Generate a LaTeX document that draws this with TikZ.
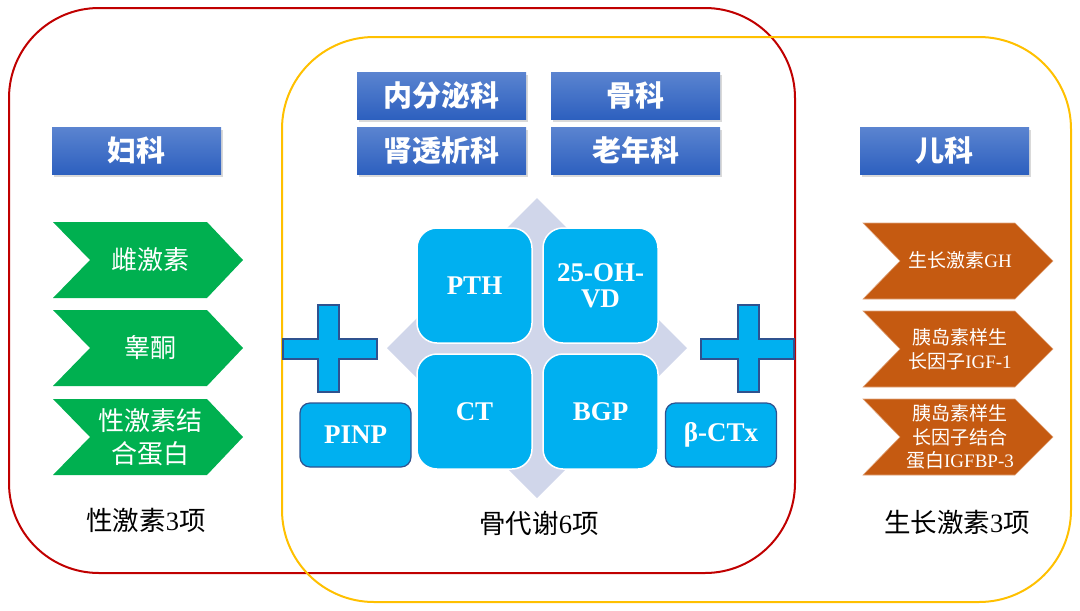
\documentclass[tikz,border=0pt]{standalone}
\usepackage{fontspec}
\setmainfont{Liberation Serif}
\newfontfamily\cjk{Noto Sans CJK SC}
\usetikzlibrary{shadows}
\definecolor{hdrtop}{HTML}{5B84D0}
\definecolor{hdrbot}{HTML}{2D60BF}
\definecolor{grn}{HTML}{00B050}
\definecolor{org}{HTML}{C55A11}
\definecolor{cyanbox}{HTML}{00B0F0}
\definecolor{darkblue}{HTML}{2F528F}
\definecolor{lav}{HTML}{D0D6EA}
\definecolor{redline}{HTML}{C00000}
\definecolor{yelline}{HTML}{FFC000}
\begin{document}
\begin{tikzpicture}[x=1pt,y=-1pt,
  hdr/.style={top color=hdrtop,bottom color=hdrbot,minimum width=169pt,minimum height=47pt,inner sep=0pt,text=white,
    font=\cjk\bfseries\fontsize{29}{31}\selectfont,drop shadow={shadow xshift=2pt,shadow yshift=-3pt,opacity=0.3}},
  sq/.style={fill=cyanbox,draw=white,line width=1.5pt,rounded corners=20pt,minimum width=115pt,minimum height=115pt,
    inner sep=0pt,text=white,align=center,font=\bfseries\fontsize{27}{26}\selectfont},
  smallbox/.style={fill=cyanbox,draw=darkblue,line width=1.2pt,rounded corners=10pt,minimum width=111pt,minimum height=64pt,
    inner sep=0pt,text=white,font=\bfseries\fontsize{27}{26}\selectfont},
  plusst/.style={fill=cyanbox,draw=darkblue,line width=1.2pt},
  gtext/.style={text=white,align=center,font=\cjk\fontsize{26}{33}\selectfont},
  otext/.style={text=white,align=center,font=\fontsize{19}{23.5}\selectfont},
  lbl/.style={text=black,font=\fontsize{26.5}{28}\selectfont},
  gchev/.style={fill=grn},
  ochev/.style={fill=org,draw=org!55!white,line width=0.6pt}
]
\useasboundingbox (0,0) rectangle (1080,611);
% group outlines
\draw[redline,line width=2pt,rounded corners=90pt] (9,8) rectangle (795,573);
\draw[yelline,line width=2pt,rounded corners=92pt] (282,37) rectangle (1071,602);

% headers
\node[hdr] (fk) at (136.5,150.5) {妇科};
\node[hdr] (nfm) at (441.5,95.5) {内分泌科};
\node[hdr] (gk) at (635.5,95.5) {骨科};
\node[hdr] (stx) at (441.5,150.5) {肾透析科};
\node[hdr] (lnk) at (635.5,150.5) {老年科};
\node[hdr] (ek) at (944.5,150.5) {儿科};

% green chevrons
\foreach \t in {222,310,399}{
  \fill[gchev] (53,\t) -- (207,\t) -- (243,\t+38) -- (207,\t+76) -- (53,\t+76) -- (90,\t+38) -- cycle;
}
\node[gtext] (cjs) at (150,260) {雌激素};
\node[gtext] (gt) at (150,348) {睾酮};
\node[gtext] (xjs) at (150,437) {性激素结\\合蛋白};

% orange chevrons
\foreach \t in {223,311,399}{
  \filldraw[ochev] (863,\t) -- (1015,\t) -- (1053,\t+38) -- (1015,\t+76) -- (863,\t+76) -- (900,\t+38) -- cycle;
}
\node[otext] (gh) at (960,260) {{\cjk 生长激素}GH};
\node[otext] (igf) at (960,349) {{\cjk 胰岛素样生}\\{\cjk 长因子}IGF-1};
\node[otext] (igfbp) at (960,437) {{\cjk 胰岛素样生}\\{\cjk 长因子结合}\\{\cjk 蛋白}IGFBP-3};

% diamond
\fill[lav] (537,198) -- (687,348) -- (537,498) -- (387,348) -- cycle;

% squares
\node[sq] (pth) at (474.5,285.5) {PTH};
\node[sq] (vd) at (600.5,285.5) {25-OH-\\VD};
\node[sq] (ct) at (474.5,411.5) {CT};
\node[sq] (bgp) at (600.5,411.5) {BGP};

% plus signs
\draw[plusst] (283,339) -- (318,339) -- (318,305) -- (339,305) -- (339,339) -- (377,339) -- (377,359)
  -- (339,359) -- (339,392) -- (318,392) -- (318,359) -- (283,359) -- cycle;
\draw[plusst] (701,339) -- (738,339) -- (738,305) -- (759,305) -- (759,339) -- (794,339) -- (794,359)
  -- (759,359) -- (759,392) -- (738,392) -- (738,359) -- (701,359) -- cycle;

\node[smallbox] (pinp) at (355.5,435) {PINP};
\node[smallbox] (ctx) at (721,435) {β-CTx};

% bottom labels
\node[lbl] (l1) at (146,520) {{\cjk 性激素}3{\cjk 项}};
\node[lbl] (l2) at (539,523) {{\cjk 骨代谢}6{\cjk 项}};
\node[lbl] (l3) at (957,522) {{\cjk 生长激素}3{\cjk 项}};
\end{tikzpicture}
\end{document}
